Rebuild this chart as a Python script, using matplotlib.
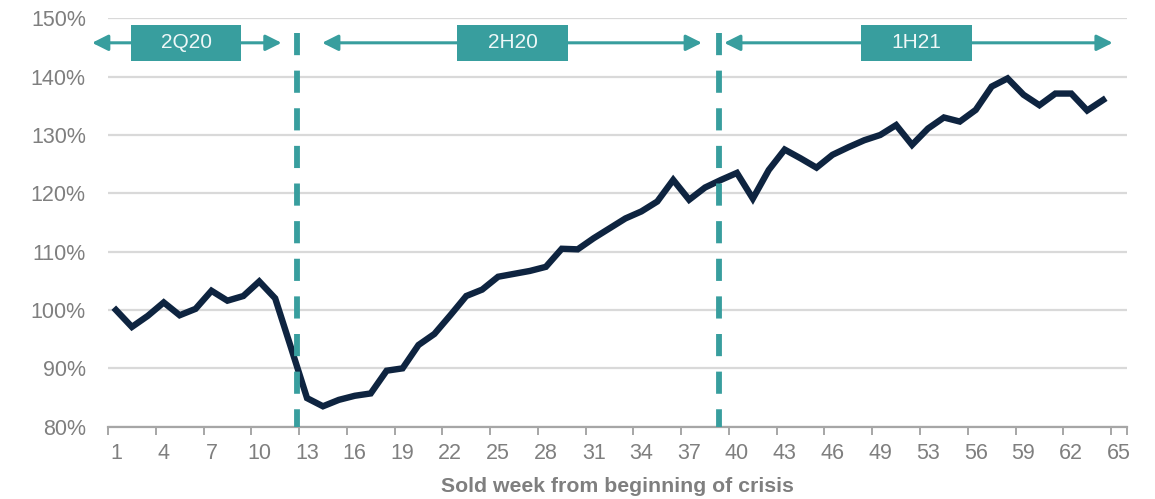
import matplotlib
matplotlib.use("Agg")
import matplotlib.pyplot as plt
from matplotlib.patches import Rectangle

plt.rcParams['font.family'] = ['Liberation Sans', 'DejaVu Sans']

# category axis: sold week since beginning of crisis (64 slots)
weeks = [1, 2, 3, 4, 5, 6, 7, 8, 9, 10, 11, 12, 13, 14, 15, 16, 17, 18, 19, 20,
         21, 22, 23, 24, 25, 26, 27, 28, 29, 30, 31, 32, 33, 34, 35, 36, 37, 38, 39, 40,
         41, 42, 43, 44, 45, 46, 47, 48, 49, 50, 52, 53, 54, 55, 56, 57, 58, 59, 60, 61,
         62, 63, 64, 65]

# index vs week 1 (%)
index_pct = [100.0, 97.1, 99.0, 101.3, 99.1, 100.2, 103.3, 101.6, 102.4, 104.9,
             102.0, 93.5, 84.9, 83.5, 84.6, 85.3, 85.7, 89.6, 90.0, 94.0,
             95.9, 99.1, 102.4, 103.5, 105.7, 106.2, 106.7, 107.4, 110.5, 110.4,
             112.3, 114.0, 115.7, 116.9, 118.6, 122.3, 118.9, 121.0, 122.3, 123.5,
             119.1, 124.0, 127.5, 126.0, 124.4, 126.6, 127.9, 129.1, 130.0, 131.7,
             128.3, 131.1, 133.0, 132.3, 134.3, 138.3, 139.7, 136.9, 135.1, 137.1,
             137.1, 134.2, 136.0]

# period markers (position on the category axis) and period labels
period_breaks = [11.35, 37.87]
period_names = ["2Q20", "2H20", "1H21"]
period_arrows = [(-1.5, 10.4), (12.95, 36.8), (38.2, 62.6)]
period_boxes = [(0.95, 7.85), (21.45, 28.4), (46.8, 53.75)]

teal = "#389e9e"
navy = "#0e2440"
grey = "#7f7f7f"

fig = plt.figure(figsize=(11.55, 4.99), dpi=100)
ax = fig.add_axes([108 / 1155, 72.3 / 499, (1127 - 108) / 1155, (480.7 - 72.3) / 499])

ax.plot(range(len(index_pct)), index_pct, color=navy, lw=4.6,
        solid_joinstyle='miter', zorder=3)

ax.set_xlim(-0.5, len(weeks) - 0.5)
ax.set_ylim(80, 150)
ax.set_yticks(range(80, 151, 10))
ax.set_yticklabels([f"{v}%" for v in range(80, 151, 10)])
ax.grid(axis='y', color="#d9d9d9", lw=1.6, zorder=0)

lab_pos = list(range(0, len(weeks), 3))
ax.set_xticks(lab_pos)
ax.set_xticklabels([str(weeks[i]) for i in lab_pos])
ax.set_xticks([p - 0.5 for p in lab_pos] + [len(weeks) - 0.5], minor=True)
ax.tick_params(axis='x', which='major', length=0, pad=12, labelsize=15.5, labelcolor=grey)
ax.tick_params(axis='x', which='minor', length=6, width=1.4, color="#a6a6a6")
ax.tick_params(axis='y', length=0, pad=16, labelsize=15.5, labelcolor=grey)

for s in ['top', 'right', 'left']:
    ax.spines[s].set_visible(False)
ax.spines['bottom'].set_color("#a6a6a6")
ax.spines['bottom'].set_linewidth(1.6)

ax.set_xlabel("Sold week from beginning of crisis", fontsize=15.3, fontweight='bold',
              color=grey, labelpad=9)

# dashed period separators, drawn top-down so the dash pattern starts at the top
for xb in period_breaks:
    ax.plot([xb, xb], [147.5, 80], color=teal, lw=4.2, ls=(0, (3.8, 2.65)),
            solid_capstyle='butt', zorder=4, clip_on=False)

# period arrows and labels
ya = 145.8
for name, (a0, a1), (b0, b1) in zip(period_names, period_arrows, period_boxes):
    ax.annotate("", xy=(a1, ya), xytext=(b1, ya),
                arrowprops=dict(arrowstyle='-|>', color=teal, lw=2.2,
                                mutation_scale=24, shrinkA=0, shrinkB=0),
                annotation_clip=False)
    ax.annotate("", xy=(a0, ya), xytext=(b0, ya),
                arrowprops=dict(arrowstyle='-|>', color=teal, lw=2.2,
                                mutation_scale=24, shrinkA=0, shrinkB=0),
                annotation_clip=False)
    ax.add_patch(Rectangle((b0, 142.7), b1 - b0, 6.2, facecolor=teal,
                           edgecolor='none', zorder=5, clip_on=False))
    ax.text((b0 + b1) / 2, 145.8, name, color="#eef7f7", fontsize=15,
            ha='center', va='center', zorder=6)

fig.savefig("out.png", dpi=100)
